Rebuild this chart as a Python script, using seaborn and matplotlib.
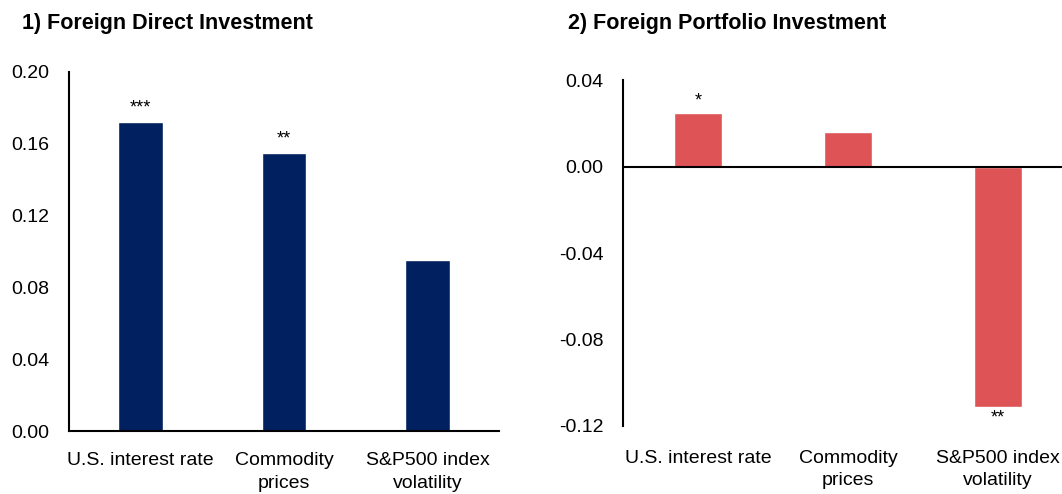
import seaborn as sns, matplotlib.pyplot as plt
import pandas as pd

categories = ['U.S. interest rate', 'Commodity\nprices', 'S&P500 index\nvolatility']
fdi_values = [0.172, 0.155, 0.095]
fpi_values = [0.025, 0.016, -0.111]
fdi_stars = ['***', '**', '']
fpi_stars = ['*', '', '**']

sns.set_style('white')
plt.rcParams['font.family'] = ['Liberation Sans', 'DejaVu Sans']
plt.rcParams['text.color'] = 'black'

fig = plt.figure(figsize=(10.62, 4.94), dpi=100)
ax1 = fig.add_axes([0.065, 0.1275, 0.405, 0.727])
ax2 = fig.add_axes([0.5866, 0.1377, 0.4237, 0.700])

# Panel 1: Foreign Direct Investment
df1 = pd.DataFrame({'cat': categories, 'val': fdi_values})
sns.barplot(data=df1, x='cat', y='val', color='#002060', width=0.31,
            saturation=1, ax=ax1)
ax1.set_ylim(0, 0.20)
ax1.set_yticks([0, 0.04, 0.08, 0.12, 0.16, 0.20])
ax1.set_yticklabels(['0.00', '0.04', '0.08', '0.12', '0.16', '0.20'])
for i, (v, s) in enumerate(zip(fdi_values, fdi_stars)):
    if s:
        ax1.text(i, v + 0.003, s, ha='center', va='bottom', fontsize=13)
ax1.set_xlim(-0.5, 2.5)
sns.despine(ax=ax1)
fig.text(0.021, 0.953, '1) Foreign Direct Investment', fontsize=15.5,
         fontweight='bold', ha='left', va='center')

# Panel 2: Foreign Portfolio Investment
df2 = pd.DataFrame({'cat': categories, 'val': fpi_values})
sns.barplot(data=df2, x='cat', y='val', color='#DE5456', width=0.32,
            saturation=1, ax=ax2)
ax2.set_ylim(-0.12, 0.04)
ax2.set_yticks([-0.12, -0.08, -0.04, 0.0, 0.04])
ax2.set_yticklabels(['-0.12', '-0.08', '-0.04', '0.00', '0.04'])
ax2.axhline(0, color='black', lw=1.5, clip_on=False)
for i, (v, s) in enumerate(zip(fpi_values, fpi_stars)):
    if s:
        if v >= 0:
            ax2.text(i, v + 0.0015, s, ha='center', va='bottom', fontsize=13)
        else:
            ax2.text(i, v - 0.0015, s, ha='center', va='top', fontsize=13)
ax2.set_xlim(-0.5, 2.5)
sns.despine(ax=ax2, bottom=True)
fig.text(0.535, 0.953, '2) Foreign Portfolio Investment', fontsize=15.5,
         fontweight='bold', ha='left', va='center')

for ax in (ax1, ax2):
    ax.set_xlabel('')
    ax.set_ylabel('')
    ax.tick_params(axis='both', length=0, labelsize=14, colors='black')
    ax.tick_params(axis='y', pad=14)
    for lbl in ax.get_xticklabels():
        lbl.set_linespacing(1.45)
    for sp in ('left', 'bottom'):
        ax.spines[sp].set_color('black')
        ax.spines[sp].set_linewidth(1.5)
ax1.tick_params(axis='x', pad=15)
ax2.tick_params(axis='x', pad=17)

fig.savefig('out.png', dpi=100)
